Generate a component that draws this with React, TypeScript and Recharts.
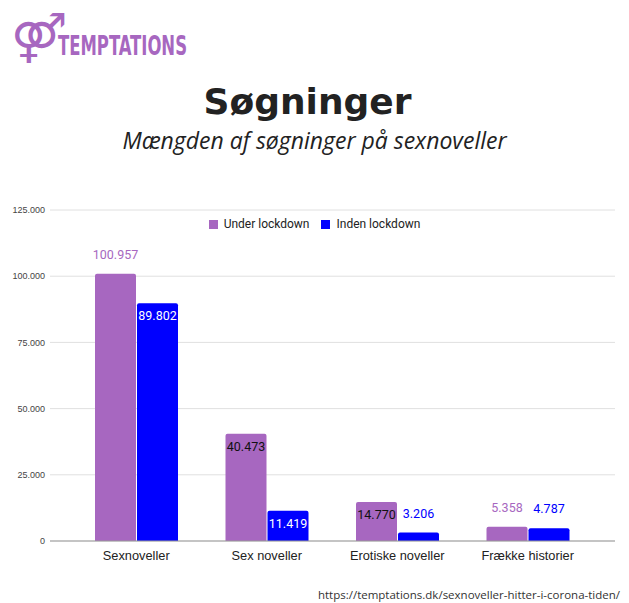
import React from 'react';
import { BarChart, Bar, XAxis, YAxis, CartesianGrid, Legend, LabelList } from 'recharts';

const categories = ['Sexnoveller', 'Sex noveller', 'Erotiske noveller', 'Frække historier'];
const underLockdown = [100957, 40473, 14770, 5358];
const indenLockdown = [89802, 11419, 3206, 4787];
const yTicks = [0, 25000, 50000, 75000, 100000, 125000];
// where each value label sits: above the bar or inside its top
const underLabelPos = ['above', 'inside', 'inside', 'above'];
const indenLabelPos = ['inside', 'inside', 'above', 'above'];

const PURPLE = '#a767c0';
const BLUE = '#0000ff';

const data = categories.map((name, i) => ({
  name,
  under: underLockdown[i],
  inden: indenLockdown[i],
}));

const legendItems = [
  { label: 'Under lockdown', color: PURPLE },
  { label: 'Inden lockdown', color: BLUE },
];

const fmt = (v: number) => String(v).replace(/\B(?=(\d{3})+(?!\d))/g, '.');

function makeLabel(positions: string[], color: string, insideColor: string) {
  return (props: any) => {
    const { x, y, width, value, index } = props;
    const inside = positions[index] === 'inside';
    return (
      <text
        x={Number(x) + Number(width) / 2}
        y={inside ? Number(y) + 17 : Number(y) - 15}
        textAnchor="middle"
        fontFamily="Roboto, Arial, sans-serif"
        fontSize={12.5}
        fill={inside ? insideColor : color}
      >
        {fmt(value)}
      </text>
    );
  };
}

function LegendContent() {
  return (
    <div style={{ display: 'flex', justifyContent: 'center', gap: 12, fontFamily: 'Roboto, Arial, sans-serif', fontSize: 12, color: '#222' }}>
      {legendItems.map((it) => (
        <div key={it.label} style={{ display: 'flex', alignItems: 'center' }}>
          <span style={{ display: 'inline-block', width: 9, height: 9, background: it.color, marginRight: 6 }} />
          {it.label}
        </div>
      ))}
    </div>
  );
}

export default function App() {
  return (
    <div style={{ position: 'absolute', left: 0, top: 0, width: 629, height: 603, background: '#fff' }}>
      <svg width={230} height={70} style={{ position: 'absolute', left: 0, top: 0 }}>
        <text x={11} y={54} fontFamily="DejaVu Sans" fontSize={48} fill={PURPLE}>
          ⚤
        </text>
        <text
          x={58}
          y={55}
          fontFamily="DejaVu Sans Condensed, DejaVu Sans"
          fontWeight="bold"
          fontSize={27}
          fill={PURPLE}
          textLength={129}
          lengthAdjust="spacingAndGlyphs"
        >
          TEMPTATIONS
        </text>
      </svg>
      <div
        style={{
          position: 'absolute',
          top: 80,
          left: -7,
          width: 629,
          textAlign: 'center',
          fontFamily: 'DejaVu Sans, sans-serif',
          fontWeight: 'bold',
          fontSize: 36,
          color: '#222',
          lineHeight: '44px',
        }}
      >
        Søgninger
      </div>
      <div
        style={{
          position: 'absolute',
          top: 126,
          left: 0,
          width: 629,
          textAlign: 'center',
          fontFamily: '"Open Sans", sans-serif',
          fontStyle: 'italic',
          fontSize: 23,
          color: '#222',
          lineHeight: '28px',
        }}
      >
        Mængden af søgninger på sexnoveller
      </div>
      <div style={{ position: 'absolute', left: 0, top: 0 }}>
        <BarChart
          width={629}
          height={603}
          data={data}
          margin={{ top: 210, right: 14, bottom: 32, left: 5 }}
          barSize={41}
          barGap={1}
        >
          <CartesianGrid vertical={false} stroke="#e0e0e0" />
          <XAxis
            dataKey="name"
            height={30}
            padding={{ left: 21, right: 22 }}
            tickLine={false}
            tickSize={0}
            tickMargin={10}
            axisLine={{ stroke: '#999' }}
            tick={{ fontSize: 12.8, fill: '#222', fontFamily: 'Arial, Liberation Sans, sans-serif' }}
          />
          <YAxis
            width={45}
            domain={[0, 125000]}
            ticks={yTicks}
            tickFormatter={fmt}
            axisLine={false}
            tickLine={false}
            tickSize={0}
            tickMargin={5}
            tick={{ fontSize: 9, fill: '#444', fontFamily: 'Arial, Liberation Sans, sans-serif' }}
          />
          <Legend
            verticalAlign="middle"
            align="center"
            content={<LegendContent />}
            wrapperStyle={{ top: 217, left: 0, width: 629 }}
          />
          <Bar dataKey="under" name="Under lockdown" fill={PURPLE} radius={[2, 2, 0, 0]} isAnimationActive={false}>
            <LabelList dataKey="under" content={makeLabel(underLabelPos, PURPLE, '#111')} />
          </Bar>
          <Bar dataKey="inden" name="Inden lockdown" fill={BLUE} radius={[2, 2, 0, 0]} isAnimationActive={false}>
            <LabelList dataKey="inden" content={makeLabel(indenLabelPos, BLUE, '#fff')} />
          </Bar>
        </BarChart>
      </div>
      <div
        style={{
          position: 'absolute',
          top: 587,
          right: 9,
          fontFamily: '"Open Sans", sans-serif',
          fontSize: 11.5,
          color: '#333',
        }}
      >
        https://temptations.dk/sexnoveller-hitter-i-corona-tiden/
      </div>
    </div>
  );
}
